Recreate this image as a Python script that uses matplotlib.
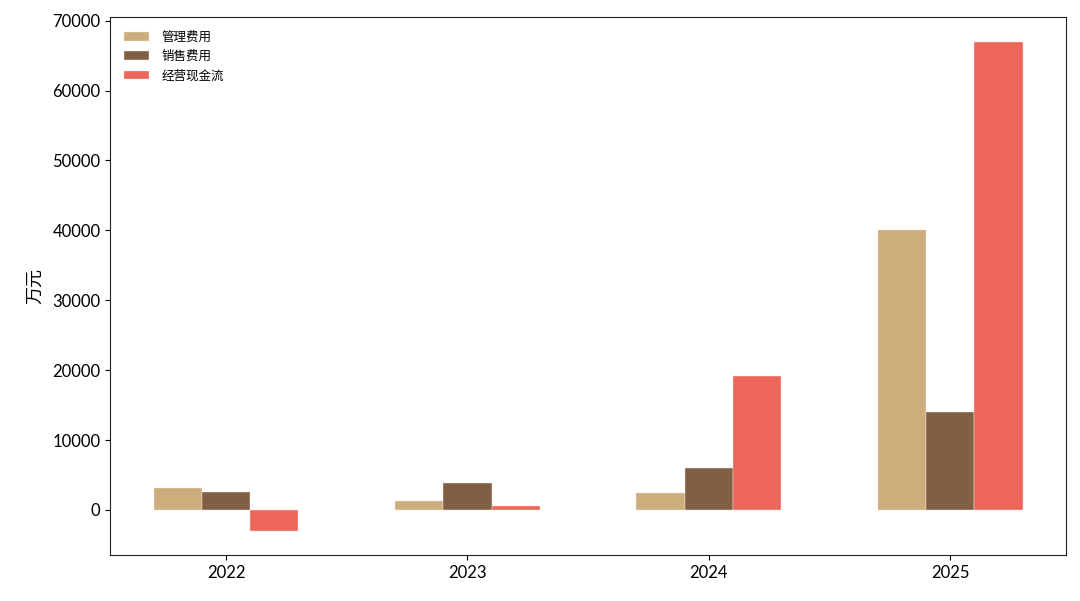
import matplotlib
matplotlib.use("Agg")
import matplotlib.pyplot as plt
import numpy as np

years = ["2022", "2023", "2024", "2025"]
mgmt_cost = [3100, 1300, 2450, 40000]
sales_cost = [2600, 3800, 6000, 14050]
op_cash = [-2950, 500, 19200, 67000]
series_names = ["管理费用", "销售费用", "经营现金流"]
colors = ["#CDAD7B", "#805F45", "#EC6759"]

plt.rcParams['font.family'] = ['Lato', 'Noto Sans CJK SC', 'DejaVu Sans']

fig = plt.figure(figsize=(10.8, 6.01), dpi=100)
ax = fig.add_axes([0.102, 0.0765, 0.885, 0.895])

x = np.arange(len(years))
w = 0.2
for i, (vals, name, c) in enumerate(zip([mgmt_cost, sales_cost, op_cash], series_names, colors)):
    ax.bar(x + (i - 1) * w, vals, width=w, color=c, label=name, edgecolor='#f6e6e0', linewidth=0.3)

ax.set_xticks(x)
ax.set_xticklabels(years, fontsize=12)
ax.set_yticks(np.arange(0, 70001, 10000))
ax.set_yticklabels([str(v) for v in range(0, 70001, 10000)], fontsize=12)
ax.set_ylabel("万元", fontsize=13, family=['Noto Sans CJK SC'], labelpad=6)
leg = ax.legend(loc='upper left', frameon=False, prop={'family': ['Noto Sans CJK SC'], 'size': 9},
                handletextpad=1.0, borderaxespad=0.7)
for sp in ax.spines.values():
    sp.set_color('#222222')

fig.savefig("out.png", dpi=100)
